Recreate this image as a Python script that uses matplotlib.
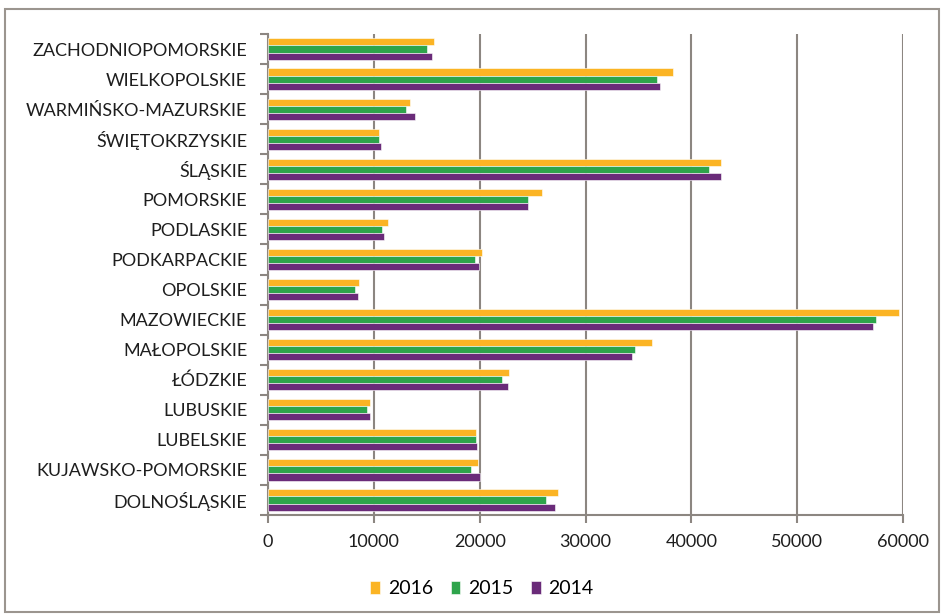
import matplotlib
matplotlib.use("Agg")
import matplotlib.pyplot as plt
import numpy as np
from matplotlib.patches import Rectangle

plt.rcParams['font.family'] = ['Lato', 'DejaVu Sans']

regions = ["DOLNOŚLĄSKIE", "KUJAWSKO-POMORSKIE", "LUBELSKIE", "LUBUSKIE", "ŁÓDZKIE",
           "MAŁOPOLSKIE", "MAZOWIECKIE", "OPOLSKIE", "PODKARPACKIE", "PODLASKIE",
           "POMORSKIE", "ŚLĄSKIE", "ŚWIĘTOKRZYSKIE", "WARMIŃSKO-MAZURSKIE",
           "WIELKOPOLSKIE", "ZACHODNIOPOMORSKIE"]
v2016 = [27440, 19810, 19650, 9650, 22760, 36330, 59600, 8580, 20220, 11320,
         25870, 42770, 10500, 13410, 38270, 15650]
v2015 = [26250, 19150, 19680, 9340, 22100, 34690, 57460, 8230, 19560, 10760,
         24570, 41640, 10470, 13060, 36790, 15050]
v2014 = [27160, 20000, 19780, 9620, 22670, 34410, 57130, 8520, 19940, 10980,
         24570, 42770, 10690, 13910, 37040, 15490]
years = ["2016", "2015", "2014"]
colors = ["#FBB424", "#2EA44B", "#6A2B79"]
xticks = [0, 10000, 20000, 30000, 40000, 50000, 60000]

fig = plt.figure(figsize=(9.43, 6.16), dpi=100)
fig.patches.append(Rectangle((5/943, 4/616), 934/943, 603/616, transform=fig.transFigure,
                             fill=False, edgecolor="#9B958F", linewidth=1.5))
ax = fig.add_axes([268/943, 1-515/616, (903-268)/943, (515-34)/616])

y = np.arange(len(regions))
h = 0.235
for vals, off, c, lab in zip([v2016, v2015, v2014], [h, 0, -h], colors, years):
    ax.barh(y + off, vals, height=h, color=c, edgecolor="white", linewidth=0.4,
            label=lab, zorder=3)

ax.set_xlim(0, 60000)
ax.set_ylim(-0.5, len(regions) - 0.5)
ax.set_xticks(xticks)
ax.set_xticklabels([str(t) for t in xticks], fontsize=13, color="#1E1E1E")
ax.set_yticks(y)
ax.set_yticklabels(regions, fontsize=13, color="#1E1E1E")
ax.set_yticks(np.arange(-0.5, len(regions)), minor=True)
ax.tick_params(axis='y', which='major', length=0, pad=15)
ax.tick_params(axis='y', which='minor', length=6, width=1.5, color="#8C8681")
ax.tick_params(axis='x', which='major', length=6, width=1.5, color="#8C8681", pad=8)
ax.grid(axis='x', color="#8C8681", linewidth=1.5, zorder=0)
ax.set_axisbelow(True)
for s in ['top', 'right']:
    ax.spines[s].set_visible(False)
for s in ['left', 'bottom']:
    ax.spines[s].set_color("#8C8681")
    ax.spines[s].set_linewidth(1.5)

leg = fig.legend(loc='center', bbox_to_anchor=(482/943, 1-589/616), ncol=3, frameon=False,
                 fontsize=14, handlelength=0.5, handleheight=0.65, handletextpad=0.4,
                 columnspacing=0.9)

fig.savefig("out.png", dpi=100)
